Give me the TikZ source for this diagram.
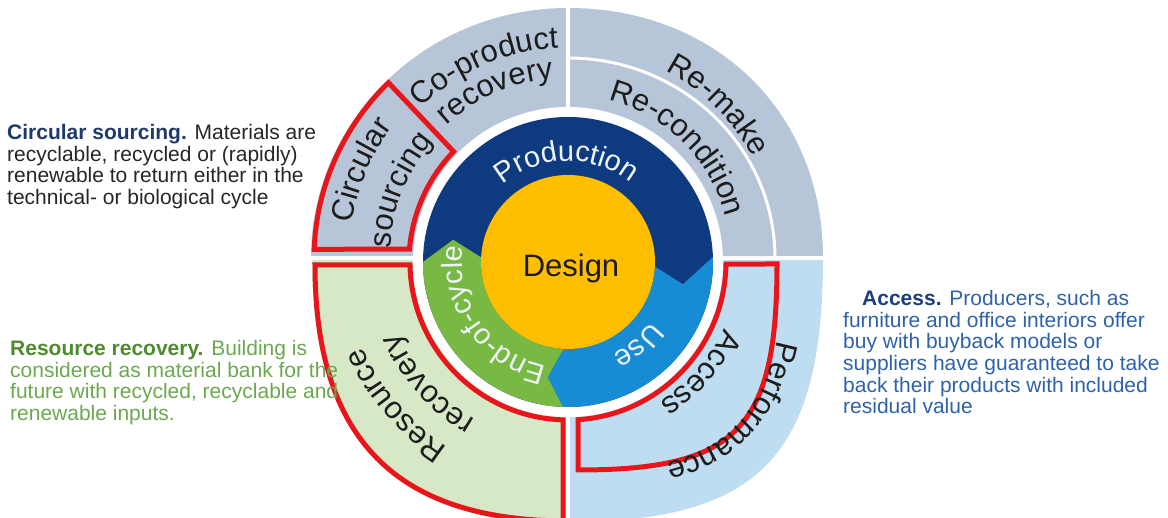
\documentclass[tikz,border=0pt]{standalone}
\usepackage{fontspec}
\setmainfont{Liberation Sans}
\usetikzlibrary{decorations.text}
\definecolor{ringgray}{HTML}{B7C5D8}
\definecolor{ringblue}{HTML}{BFDDF1}
\definecolor{ringgreen}{HTML}{D7E8C7}
\definecolor{boxred}{HTML}{E8161B}
\definecolor{prodblue}{HTML}{0E3A80}
\definecolor{usecol}{HTML}{178BD3}
\definecolor{eolgreen}{HTML}{78B943}
\definecolor{designyel}{HTML}{FFBF00}
\definecolor{lbltext}{HTML}{1C1C1C}
\definecolor{innertext}{HTML}{EEF4FA}
\definecolor{csnavy}{HTML}{1F3A68}
\definecolor{cstext}{HTML}{262626}
\definecolor{rrtitle}{HTML}{4F8A2F}
\definecolor{rrtext}{HTML}{6BA84F}
\definecolor{actitle}{HTML}{1B3F7A}
\definecolor{actext}{HTML}{2E62A8}
\newcommand\ringfontA{\fontsize{31}{31}\selectfont\color{lbltext}}
\newcommand\ringfontB{\fontsize{29}{29}\selectfont\color{innertext}}
\tikzset{
  outerlbl/.style={decorate, decoration={text along path, text align=center, text={|\ringfontA|#1}}},
  innerlbl/.style={decorate, decoration={text along path, text align=center, text={|\ringfontB|#1}}},
  redbox/.style={draw=boxred, line width=5pt, line join=miter},
  divider/.style={white, line width=4pt},
  desc/.style={font=\fontsize{21}{21.7}\selectfont, align=left, inner sep=0pt, anchor=north west},
}
\begin{document}
\begin{tikzpicture}[x=1pt,y=1pt]
\useasboundingbox (0,0) rectangle (1168,518);
\clip (0,0) rectangle (1168,518);
% outer ring quadrants
\fill[ringgray] (568,260) -- (568,510) .. controls (716,510) and (823,405) .. (823,260) -- cycle;
\fill[ringgray] (568,260) -- (311,260) arc[start angle=180, end angle=90, x radius=257, y radius=250] -- cycle;
\fill[ringblue] (568,260) -- (823,260) .. controls (823,62) and (759,-4) .. (568,-4) -- cycle;
\fill[ringgreen] (568,260) -- (568,-6) .. controls (394,-6) and (312,79.1) .. (312,260) -- cycle;
% dividers
\draw[divider] (568,518) -- (568,-10);
\draw[divider] (300,260) -- (840,260);
\draw[white, line width=3pt] (568,460) arc[start angle=90, end angle=0, x radius=207, y radius=200];
% inner disk
\begin{scope}[shift={(568,256)}]
  \fill[white] (0,0) circle (155);
  \fill[prodblue] (0,0) circle (145);
  \fill[usecol] (2:145) arc[start angle=2, end angle=-92, radius=145] -- (-100:117) -- (-93:87)
     arc[start angle=-93, end angle=-3, radius=87] -- (-11:117) -- cycle;
  \fill[eolgreen] (-92:145) arc[start angle=-92, end angle=-180, radius=145] -- (-191:117) -- (-183:87)
     arc[start angle=-183, end angle=-93, radius=87] -- (-100:117) -- cycle;
  \fill[designyel] (0,0) circle (87);
  \path[innerlbl={Production}] (150:101) arc[start angle=150, end angle=32, radius=101];
  \path[innerlbl={Use}] (-10:102) arc[start angle=-10, end angle=-90, radius=102];
  \path[innerlbl={End-of-cycle}] (265:106) arc[start angle=265, end angle=165, radius=106];
\end{scope}
\node[font=\fontsize{31}{31}\selectfont, text=lbltext, anchor=base, inner sep=0pt] (design) at (571,241) {Design};
% red boxes
\draw[redbox] (777,254) .. controls (777,89.2) and (737.2,48) .. (578,48) -- (578,98.3)
   arc[start angle=-86.37, end angle=-0.73, radius=158] -- cycle;
\draw[redbox] (315,253) .. controls (315,79) and (396,-3) .. (568,-3) -- (563,-3) -- (563,98.1)
   arc[start angle=268.2, end angle=181.09, radius=158] -- cycle;
\draw[redbox] (314.2,268.65) arc[start angle=178, end angle=135, x radius=254, y radius=248]
   -- (453.6,366.4) arc[start angle=136, end angle=175.31, radius=159] -- cycle;
% outer ring labels
\begin{scope}[shift={(568,260)}]
  \path[outerlbl={Re-make}] (85:211) arc[start angle=85, end angle=6, radius=211];
  \path[outerlbl={Re-condition}] (85:163) arc[start angle=85, end angle=5, radius=163];
  \path[outerlbl={Co-product}] (160:210) arc[start angle=160, end angle=67, radius=210];
  \path[outerlbl={recovery}] (160:180) arc[start angle=160, end angle=67, radius=180];
  \path[outerlbl={Circular}] (200:219) arc[start angle=200, end angle=114, radius=219];
  \path[outerlbl={sourcing}] (202:178) arc[start angle=202, end angle=114, radius=178];
  \path[outerlbl={Resource}] (265:224) arc[start angle=265, end angle=176, radius=224];
  \path[outerlbl={recovery}] (267:186) arc[start angle=267, end angle=177, radius=186];
  \path[outerlbl={Access}] (-6:171) arc[start angle=-6, end angle=-76, radius=171];
  \path[outerlbl={Performance}] (216,16) -- (216,0) .. controls (216,-160) and (160,-216) .. (0,-216);
\end{scope}
% descriptions
\node[desc, text=cstext] (csdesc) at (7,394)
  {\textcolor{csnavy}{\textbf{Circular sourcing.}} Materials are\\recyclable, recycled or (rapidly)\\renewable to return either in the\\technical- or biological cycle};
\node[desc, text=rrtext] (rrdesc) at (10,178)
  {\textcolor{rrtitle}{\textbf{Resource recovery.}} Building is\\considered as material bank for the\\future with recycled, recyclable and\\renewable inputs.};
\node[desc, text=actext] (acdesc) at (843,228)
  {\hspace*{19pt}\textcolor{actitle}{\textbf{Access.}} Producers, such as\\furniture and office interiors offer\\buy with buyback models or\\suppliers have guaranteed to take\\back their products with included\\residual value};
\end{tikzpicture}
\end{document}
